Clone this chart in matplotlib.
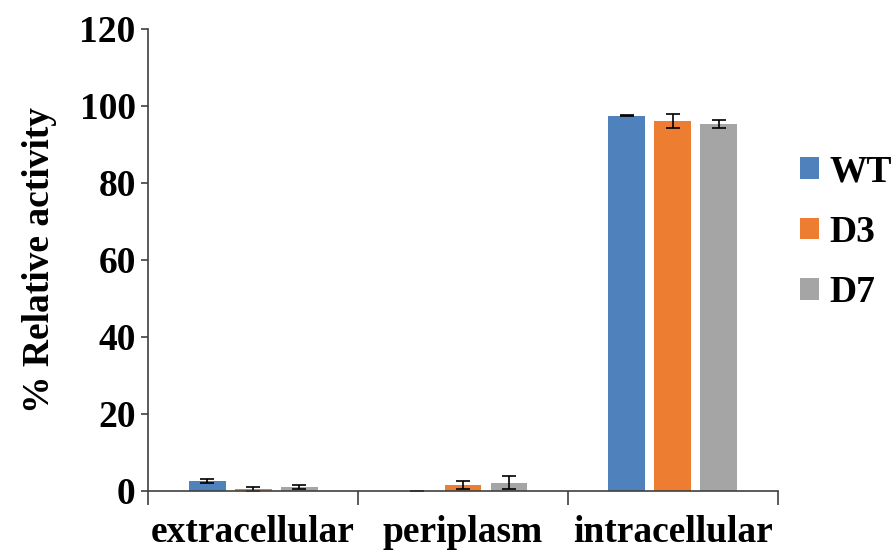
import numpy as np
import matplotlib.pyplot as plt
from matplotlib.patches import Patch

categories = ["extracellular", "periplasm", "intracellular"]
series = ["WT", "D3", "D7"]
wt = [2.6, 0.1, 97.5]
d3 = [0.5, 1.6, 96.1]
d7 = [1.0, 2.1, 95.3]
wt_err = [0.4, 0.0, 0.2]
d3_err = [0.5, 1.0, 1.8]
d7_err = [0.5, 1.7, 1.0]
colors = ["#4F81BD", "#ED7D31", "#A5A5A5"]

plt.rcParams['font.family'] = ['Liberation Serif', 'DejaVu Serif']
plt.rcParams['font.weight'] = 'bold'

fig = plt.figure(figsize=(8.93, 5.57), dpi=100)
ax = fig.add_axes([0.166, 0.1185, 0.705, 0.8295])

x = np.arange(len(categories))
width = 0.176
step = 0.219
for i, (vals, errs) in enumerate(zip([wt, d3, d7], [wt_err, d3_err, d7_err])):
    ax.bar(x + (i - 1) * step, vals, width, color=colors[i], yerr=errs,
           error_kw=dict(ecolor="black", elinewidth=1.2, capsize=5, capthick=1.2))

ax.set_xlim(-0.5, 2.5)
ax.set_ylim(0, 120)
ax.set_yticks(range(0, 121, 20))
ax.tick_params(axis='y', labelsize=27, length=5, width=1.2, color="#404040", pad=4)
ax.set_xticks(x)
ax.set_xticklabels(categories, fontsize=27, fontweight='bold')
ax.set_xticks([-0.5, 0.5, 1.5, 2.5], minor=True)
ax.tick_params(axis='x', which='major', length=0, pad=17)
ax.tick_params(axis='x', which='minor', length=10, width=1.2, color="#404040")
for s in ["top", "right"]:
    ax.spines[s].set_visible(False)
for s in ["left", "bottom"]:
    ax.spines[s].set_color("#404040")
    ax.spines[s].set_linewidth(1.2)
ax.set_ylabel("% Relative activity", fontsize=27, fontweight='bold', labelpad=16)

handles = [Patch(facecolor=c) for c in colors]
ax.legend(handles, series, loc='center left', bbox_to_anchor=(1.035, 0.56),
          frameon=False, fontsize=27, handlelength=0.5, handleheight=0.5,
          labelspacing=0.68, handletextpad=0.3, borderaxespad=0, borderpad=0)

plt.savefig("out.png", dpi=100)
